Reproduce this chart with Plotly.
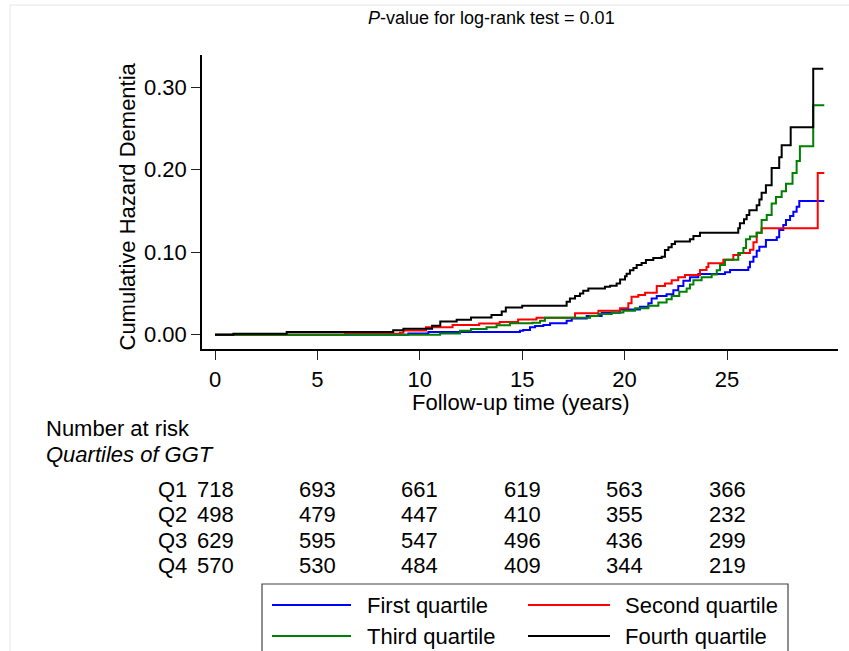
import plotly.graph_objects as go

# ---------------- data ----------------
q1_t = [0, 9.44, 10.42, 14.89, 15.05, 15.38, 15.63, 16.03, 16.36, 17.17, 17.42, 18.15, 18.88, 19.78,
        20.75, 21.16, 21.32, 21.57, 22.05, 22.38, 22.62, 22.87, 23.19, 23.6, 24.9, 25.15, 26.04, 26.12,
        26.29, 26.45, 26.58, 26.9, 27.43, 27.55, 27.75, 27.88, 28.08, 28.24, 28.4, 28.53, 29.75]
q1_h = [0, 0.0016, 0.0033, 0.0049, 0.0057, 0.009, 0.0105, 0.0118, 0.0138, 0.017, 0.0198, 0.0227, 0.0267, 0.0307,
        0.034, 0.038, 0.044, 0.047, 0.049, 0.054, 0.059, 0.0655, 0.0696, 0.0736, 0.0756, 0.0784, 0.0817, 0.0885,
        0.0945, 0.1018, 0.1067, 0.1148, 0.118, 0.127, 0.133, 0.139, 0.144, 0.149, 0.155, 0.162, 0.162]

q2_t = [0, 6.35, 9.03, 9.2, 10.3, 11.6, 12.9, 13.9, 14.8, 15.7, 17.58, 18.72, 19.78, 20.18, 20.34, 20.67,
        21.0, 21.57, 21.97, 22.3, 22.62, 22.95, 23.68, 24.0, 24.09, 24.82, 25.31, 25.63, 26.12, 26.29,
        26.45, 26.69, 29.43, 29.75]
q2_h = [0, 0.0012, 0.0025, 0.005, 0.009, 0.0118, 0.0135, 0.0155, 0.0186, 0.0206, 0.026, 0.029, 0.032, 0.038,
        0.046, 0.048, 0.051, 0.059, 0.062, 0.066, 0.0696, 0.0724, 0.0784, 0.082, 0.0865, 0.091, 0.0966, 0.099,
        0.103, 0.112, 0.1236, 0.129, 0.196, 0.196]

q3_t = [0, 10.99, 11.96, 12.5, 13.26, 13.75, 14.4, 15.5, 15.87, 16.11, 18.31, 18.72, 19.37, 19.94, 20.51,
        21.16, 21.65, 22.05, 22.3, 22.67, 23.03, 23.19, 23.36, 23.76, 24.25, 24.5, 24.66, 24.9, 25.55, 25.8,
        25.93, 26.12, 26.45, 26.69, 26.94, 27.18, 27.39, 27.67, 27.88, 28.2, 28.4, 28.56, 29.21, 29.75]
q3_h = [0, 0.0016, 0.0049, 0.007, 0.009, 0.0114, 0.0138, 0.0146, 0.017, 0.0206, 0.0227, 0.025, 0.027, 0.029,
        0.032, 0.035, 0.039, 0.043, 0.047, 0.052, 0.056, 0.061, 0.066, 0.0696, 0.073, 0.078, 0.0845, 0.091,
        0.099, 0.105, 0.1156, 0.119, 0.1236, 0.139, 0.145, 0.159, 0.167, 0.174, 0.183, 0.196, 0.2105, 0.2285,
        0.278, 0.278]

q4_t = [0, 0.9, 3.5, 8.7, 9.2, 10.6, 11.0, 11.8, 12.5, 13.5, 14.0, 14.2, 15.0, 17.17, 17.33, 17.58, 17.82,
        17.98, 18.23, 19.04, 19.29, 19.61, 19.78, 20.02, 20.10, 20.26, 20.43, 20.59, 20.83, 21.04, 21.40,
        21.81, 21.97, 22.14, 22.30, 22.46, 23.19, 23.36, 23.68, 25.55, 25.63, 25.83, 25.96, 26.09, 26.45,
        26.58, 26.69, 26.90, 27.18, 27.55, 27.67, 28.11, 29.21, 29.70]
q4_h = [0, 0.0012, 0.0033, 0.0053, 0.0073, 0.011, 0.016, 0.018, 0.021, 0.024, 0.028, 0.033, 0.035, 0.040,
        0.044, 0.047, 0.050, 0.0534, 0.056, 0.058, 0.0594, 0.062, 0.067, 0.071, 0.074, 0.078, 0.081, 0.0845,
        0.087, 0.0905, 0.093, 0.0945, 0.1026, 0.106, 0.110, 0.113, 0.1156, 0.1196, 0.1236, 0.129, 0.135,
        0.140, 0.145, 0.151, 0.157, 0.164, 0.172, 0.181, 0.202, 0.215, 0.2296, 0.2514, 0.3224, 0.3224]

series_names = ["First quartile", "Second quartile", "Third quartile", "Fourth quartile"]
series_colors = ["#0000ff", "#ff0000", "#008000", "#000000"]

risk_times = [0, 5, 10, 15, 20, 25]
risk_labels = ["Q1", "Q2", "Q3", "Q4"]
risk_q1 = [718, 693, 661, 619, 563, 366]
risk_q2 = [498, 479, 447, 410, 355, 232]
risk_q3 = [629, 595, 547, 496, 436, 299]
risk_q4 = [570, 530, 484, 409, 344, 219]

x_ticks = [0, 5, 10, 15, 20, 25]
y_ticks = [0.0, 0.1, 0.2, 0.3]

# ---------------- figure ----------------
FONT = "Liberation Sans, Arial, sans-serif"
W, H = 849, 651
L, R, T, B = 202, 11, 55, 302
PW, PH = W - L - R, H - T - B


def px(x):
    return (x - L) / PW


def py(y):
    return (H - B - y) / PH


fig = go.Figure()
for t, h, name, col in zip([q1_t, q2_t, q3_t, q4_t], [q1_h, q2_h, q3_h, q4_h], series_names, series_colors):
    fig.add_trace(go.Scatter(x=t, y=h, mode="lines", line=dict(shape="hv", color=col, width=2),
                             name=name, showlegend=False, hoverinfo="skip"))

fig.update_layout(
    width=W, height=H,
    margin=dict(l=L, r=R, t=T, b=B, pad=0),
    paper_bgcolor="white", plot_bgcolor="white",
    font=dict(family=FONT, size=22, color="black"),
    showlegend=False,
)
fig.update_xaxes(range=[-0.635, 30.42], tickvals=x_ticks, ticks="outside", ticklen=9, tickwidth=1.3,
                 tickcolor="#222", showline=True, linecolor="black", linewidth=1.5, showgrid=False,
                 zeroline=False, tickfont=dict(size=22), ticklabelstandoff=1)
fig.update_yaxes(range=[-0.0173, 0.339], tickvals=y_ticks, tickformat=".2f", ticks="outside", ticklen=9,
                 tickwidth=1.3, tickcolor="#222", showline=True, linecolor="black", linewidth=1.5,
                 showgrid=False, zeroline=False, tickfont=dict(size=22))

ann = []
ann.append(dict(text="<i>P</i>-value for log-rank test = 0.01", x=px(491), y=py(18), xref="paper", yref="paper",
                showarrow=False, font=dict(size=18), xanchor="center", yanchor="middle"))
ann.append(dict(text="Follow-up time (years)", x=px(521), y=py(402), xref="paper", yref="paper",
                showarrow=False, font=dict(size=22), xanchor="center", yanchor="middle"))
ann.append(dict(text="Cumulative Hazard Dementia", x=px(127), y=py(206.5), xref="paper", yref="paper",
                showarrow=False, font=dict(size=22), textangle=-90, xanchor="center", yanchor="middle"))
ann.append(dict(text="Number at risk", x=px(44), y=py(428), xref="paper", yref="paper",
                showarrow=False, font=dict(size=22), xanchor="left", yanchor="middle"))
ann.append(dict(text="<i>Quartiles of GGT</i>", x=px(44), y=py(454), xref="paper", yref="paper",
                showarrow=False, font=dict(size=22), xanchor="left", yanchor="middle"))

row_y = [489, 514.5, 540, 565]
for lab, vals, ry in zip(risk_labels, [risk_q1, risk_q2, risk_q3, risk_q4], row_y):
    ann.append(dict(text=lab, x=px(156), y=py(ry), xref="paper", yref="paper", showarrow=False,
                    font=dict(size=22), xanchor="left", yanchor="middle"))
    for t, v in zip(risk_times, vals):
        ann.append(dict(text=str(v), x=t, y=py(ry), xref="x", yref="paper", showarrow=False,
                        font=dict(size=22), xanchor="center", yanchor="middle"))

shapes = []
# faint outer frame
shapes.append(dict(type="rect", xref="paper", yref="paper", x0=px(10), x1=px(860), y0=py(700), y1=py(5),
                   line=dict(color="#e4e8e8", width=1), fillcolor="rgba(0,0,0,0)", layer="below"))
# legend box
shapes.append(dict(type="rect", xref="paper", yref="paper", x0=px(262), x1=px(788), y0=py(720), y1=py(584),
                   line=dict(color="#444", width=1.2), fillcolor="white"))
leg_pos = [(272, 351, 365, 605), (528, 610, 623, 605), (272, 351, 365, 636), (528, 610, 623, 636)]
for (x0, x1, xt, yy), name, col in zip(leg_pos, series_names, series_colors):
    shapes.append(dict(type="line", xref="paper", yref="paper", x0=px(x0), x1=px(x1), y0=py(yy), y1=py(yy),
                       line=dict(color=col, width=2)))
    ann.append(dict(text=name, x=px(xt), y=py(yy), xref="paper", yref="paper", showarrow=False,
                    font=dict(size=22), xanchor="left", yanchor="middle"))

fig.update_layout(annotations=ann, shapes=shapes)
fig.write_html("out.html", config={"displayModeBar": False},
               post_script="document.body.style.margin='0';document.body.style.padding='0';")
